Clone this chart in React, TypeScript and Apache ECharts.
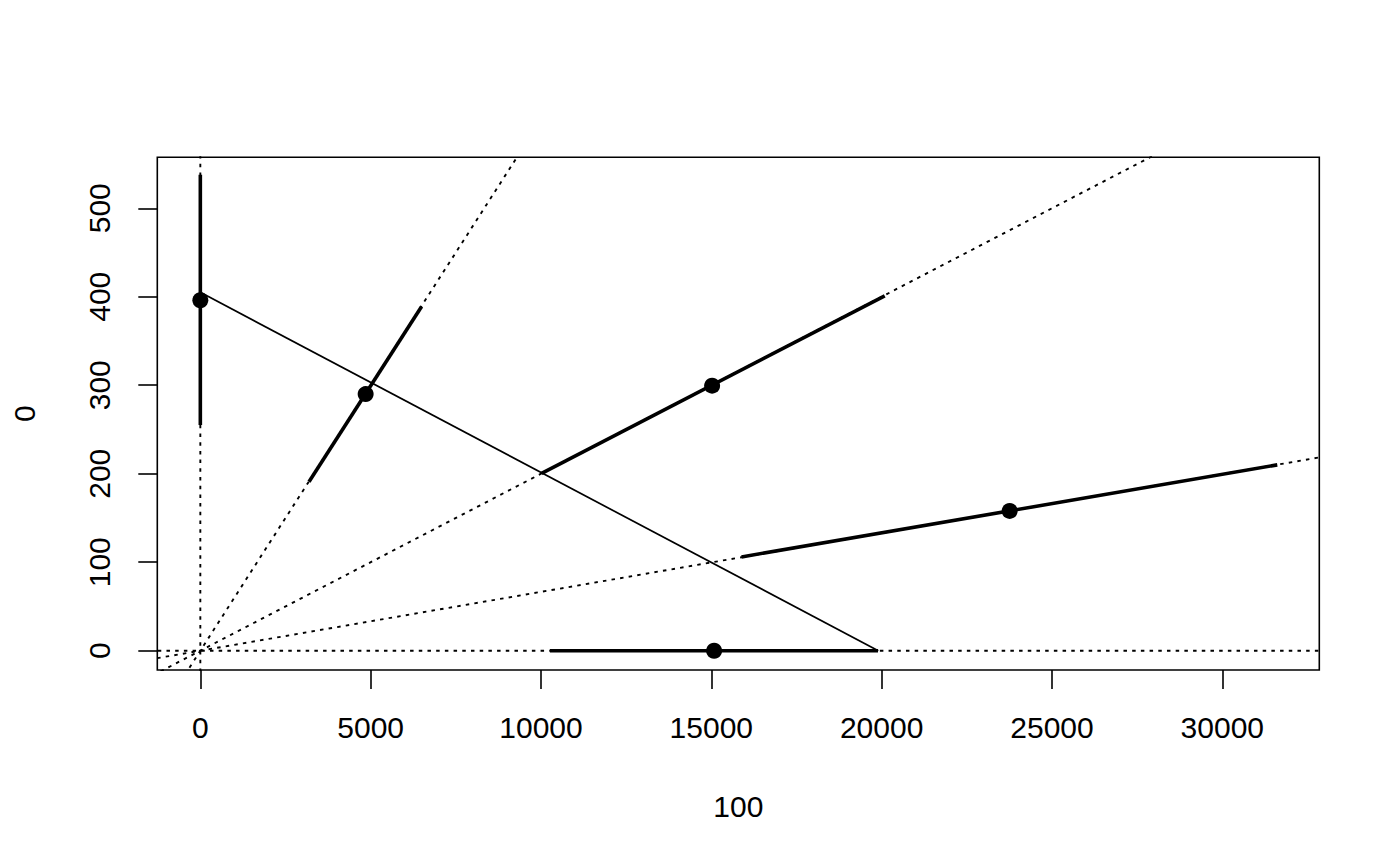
import React, { useEffect, useRef } from "react";
import * as echarts from "echarts";

// Tick labels
const xTicks = [0, 5000, 10000, 15000, 20000, 25000, 30000];
const yTicks = [0, 100, 200, 300, 400, 500];

// Reference lines through the origin (slopes), plus y = 0 and x = 0
const refSlopes = [0.06, 0.02, 0.00665];

// Thin solid line endpoints
const solidX = [0, 19900];
const solidY = [405, 0];

// Thick interval segments (low end, high end) and their central points
const segLowX = [0, 3190, 10018, 15886, 10262];
const segLowY = [255, 191, 200.5, 106, 0];
const segHighX = [0, 6496, 20090, 31613, 19894];
const segHighY = [538, 389, 401, 210, 0];
const pointX = [0, 4853, 15023, 23758, 15082];
const pointY = [396, 290, 299.5, 158, 0];

const X_MIN = -1263;
const X_MAX = 32847;
const Y_MIN = -21.8;
const Y_MAX = 557.6;

const FONT = "'Liberation Sans', Arial, Helvetica, sans-serif";

export default function App() {
  const ref = useRef<HTMLDivElement>(null);

  useEffect(() => {
    if (!ref.current) return;
    const chart = echarts.init(ref.current, undefined, { renderer: "svg" });

    const dotted = { color: "#000", width: 1.9, type: [3.5, 5.2] as any };

    const series: any[] = [];
    // sloped reference lines, extended beyond the plot and clipped
    refSlopes.forEach((s) => {
      const x0 = X_MIN * 2;
      const x1 = X_MAX * 2;
      series.push({
        type: "line",
        data: [
          [x0, s * x0],
          [x1, s * x1],
        ],
        symbol: "none",
        clip: true,
        lineStyle: dotted,
        silent: true,
        z: 1,
      });
    });
    // horizontal y = 0
    series.push({
      type: "line",
      data: [
        [X_MIN * 2, 0],
        [X_MAX * 2, 0],
      ],
      symbol: "none",
      clip: true,
      lineStyle: dotted,
      z: 1,
    });
    // vertical x = 0
    series.push({
      type: "line",
      data: [
        [0, Y_MIN * 2],
        [0, Y_MAX * 2],
      ],
      symbol: "none",
      clip: true,
      lineStyle: dotted,
      z: 1,
    });
    // thin solid line
    series.push({
      type: "line",
      data: solidX.map((x, i) => [x, solidY[i]]),
      symbol: "none",
      clip: true,
      lineStyle: { color: "#000", width: 1.7, type: "solid" },
      z: 2,
    });
    // thick segments
    segLowX.forEach((x, i) => {
      series.push({
        type: "line",
        data: [
          [x, segLowY[i]],
          [segHighX[i], segHighY[i]],
        ],
        symbol: "none",
        clip: true,
        lineStyle: { color: "#000", width: 3.6, type: "solid", cap: "butt" },
        z: 3,
      });
    });
    // points
    series.push({
      type: "scatter",
      data: pointX.map((x, i) => [x, pointY[i]]),
      symbol: "circle",
      symbolSize: 16,
      itemStyle: { color: "#000", opacity: 1 },
      z: 4,
    });

    const fmt = (v: number) => String(v);

    chart.setOption({
      animation: false,
      backgroundColor: "#fff",
      grid: {
        left: 157.3,
        top: 157.3,
        width: 1162,
        height: 512.7,
        show: true,
        borderColor: "#000",
        borderWidth: 1.6,
        backgroundColor: "transparent",
      },
      xAxis: {
        type: "value",
        min: X_MIN,
        max: X_MAX,
        axisLine: { show: false, onZero: false },
        splitLine: { show: false },
        axisTick: {
          show: true,
          customValues: xTicks,
          length: 19,
          lineStyle: { color: "#000", width: 1.6 },
        },
        axisLabel: {
          customValues: xTicks,
          formatter: fmt,
          margin: 42,
          fontSize: 30,
          color: "#000",
          fontFamily: FONT,
        },
        name: "100",
        nameLocation: "middle",
        nameGap: 121,
        nameTextStyle: { fontSize: 30, color: "#000", fontFamily: FONT },
      },
      yAxis: {
        type: "value",
        min: Y_MIN,
        max: Y_MAX,
        axisLine: { show: false, onZero: false },
        splitLine: { show: false },
        axisTick: {
          show: true,
          customValues: yTicks,
          length: 19,
          lineStyle: { color: "#000", width: 1.6 },
        },
        axisLabel: {
          customValues: yTicks,
          formatter: fmt,
          rotate: 90,
          margin: 43,
          fontSize: 30,
          color: "#000",
          fontFamily: FONT,
        },
        name: "0",
        nameLocation: "middle",
        nameGap: 118,
        nameRotate: 90,
        nameTextStyle: { fontSize: 30, color: "#000", fontFamily: FONT },
      },
      series,
    });

    return () => chart.dispose();
  }, []);

  return (
    <div
      ref={ref}
      style={{ position: "fixed", left: 0, top: 0, width: 1400, height: 866 }}
    />
  );
}
